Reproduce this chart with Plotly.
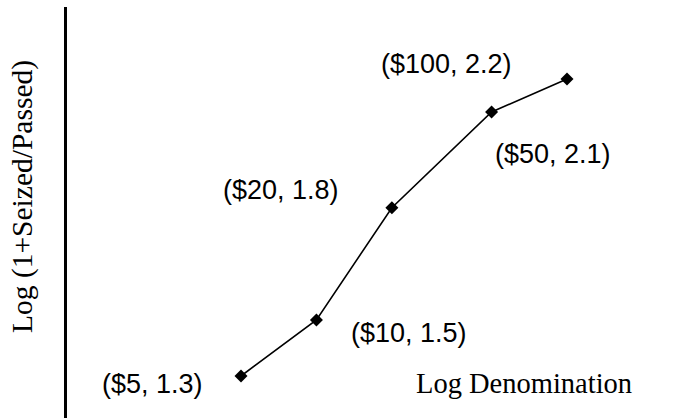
import math
import plotly.graph_objects as go

# Denominations (dollars) and log(1 + seized/passed) values
denominations = [5, 10, 20, 50, 100]
seizure_ratio = [1.30, 1.47, 1.81, 2.10, 2.20]

# Label offsets (pixels) relative to each point
label_dx = [-88, 93, -111, 61, -121]
label_dy = [-8, -13, 18, -42, 15]

W, H = 683, 418

fig = go.Figure()
fig.add_trace(go.Scatter(
    x=denominations,
    y=seizure_ratio,
    mode="lines+markers",
    line=dict(color="black", width=1.6),
    marker=dict(symbol="diamond", size=10, color="black"),
    hoverinfo="skip",
    showlegend=False,
))

for d, v, dx, dy in zip(denominations, seizure_ratio, label_dx, label_dy):
    fig.add_annotation(
        # annotations on a log axis take log10 positions
        x=math.log10(d), y=v, xref="x", yref="y",
        text=f"(${d}, {v:.1f})",
        showarrow=False,
        xanchor="center", yanchor="middle",
        xshift=dx, yshift=dy,
        font=dict(family="Liberation Sans, Arial, sans-serif", size=27, color="black"),
    )

# Axis titles
fig.add_annotation(
    x=22 / W, y=1 - 197 / H, xref="paper", yref="paper",
    xanchor="center", yanchor="middle",
    text="Log (1+Seized/Passed)", textangle=-90, showarrow=False,
    font=dict(family="Liberation Serif, Times New Roman, serif", size=29.5, color="black"),
)
fig.add_annotation(
    x=524 / W, y=1 - 383 / H, xref="paper", yref="paper",
    xanchor="center", yanchor="middle",
    text="Log Denomination", showarrow=False,
    font=dict(family="Liberation Serif, Times New Roman, serif", size=28.5, color="black"),
)

# Vertical axis line
fig.add_shape(
    type="line", xref="paper", yref="paper",
    x0=65.5 / W, x1=65.5 / W, y0=0, y1=1 - 7 / H,
    line=dict(color="black", width=3),
)

fig.update_layout(
    width=W, height=H,
    margin=dict(l=0, r=0, t=0, b=0),
    paper_bgcolor="white", plot_bgcolor="white",
    xaxis=dict(type="log", range=[-0.2627, 2.4628], visible=False),
    yaxis=dict(range=[1.1727, 2.4394], visible=False),
)

fig.write_html("out.html")
